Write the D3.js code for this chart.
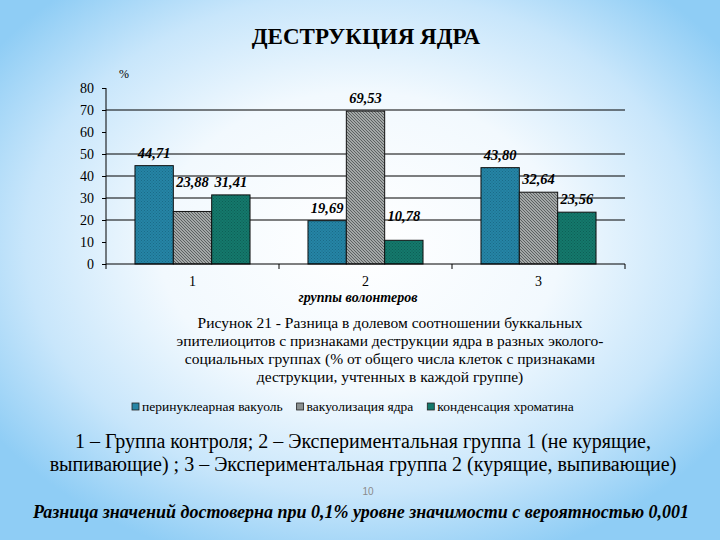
<!DOCTYPE html>
<html><head><meta charset="utf-8">
<script src="https://cdn.jsdelivr.net/npm/d3@7"></script>
</head>
<body style="margin:0">
<script>
const categories = ["1", "2", "3"];
const seriesNames = ["перинуклеарная вакуоль", "вакуолизация ядра", "конденсация хроматина"];
const perinuclear = [44.71, 19.69, 43.80];
const vacuolization = [23.88, 69.53, 32.64];
const condensation = [31.41, 10.78, 23.56];
const valueLabels = [["44,71", "23,88", "31,41"], ["19,69", "69,53", "10,78"], ["43,80", "32,64", "23,56"]];
const yTicks = [0, 10, 20, 30, 40, 50, 60, 70, 80];
const gridValues = [20, 30, 40, 50, 70];

const W = 720, H = 540;
const SERIF = '"Liberation Serif"';
const svg = d3.select("body").append("svg").attr("width", W).attr("height", H).style("display", "block");
const defs = svg.append("defs");

// background
const bg = defs.append("radialGradient").attr("id", "bg").attr("cx", "50%").attr("cy", "45%").attr("r", "62%");
bg.append("stop").attr("offset", "0%").attr("stop-color", "#ffffff");
bg.append("stop").attr("offset", "45%").attr("stop-color", "#f2f9fe");
bg.append("stop").attr("offset", "75%").attr("stop-color", "#c8e6fb");
bg.append("stop").attr("offset", "100%").attr("stop-color", "#8fcdf5");
svg.append("rect").attr("width", W).attr("height", H).attr("fill", "url(#bg)");

// patterns
function dotPattern(id, base, dot) {
  const p = defs.append("pattern").attr("id", id).attr("patternUnits", "userSpaceOnUse").attr("width", 3).attr("height", 3);
  p.append("rect").attr("width", 3).attr("height", 3).attr("fill", base);
  p.append("rect").attr("x", 0).attr("y", 0).attr("width", 1).attr("height", 1).attr("fill", dot);
  p.append("rect").attr("x", 1.5).attr("y", 1.5).attr("width", 1).attr("height", 1).attr("fill", dot);
}
dotPattern("pBlue", "#2585a6", "#1b6a87");
dotPattern("pTeal", "#14796c", "#0e5e55");
const ph = defs.append("pattern").attr("id", "pGray").attr("patternUnits", "userSpaceOnUse").attr("width", 3).attr("height", 3);
ph.append("rect").attr("width", 3).attr("height", 3).attr("fill", "#c4c8c8");
ph.append("path").attr("d", "M-1,-1 L4,4 M-1,2 L1,4 M2,-1 L4,1").attr("stroke", "#555a5a").attr("stroke-width", 1.1);
const fills = ["url(#pBlue)", "url(#pGray)", "url(#pTeal)"];
const legendFills = ["#2585a6", "#8a9090", "#14796c"];

function serifText(parent) { return parent.append("text").style("font-family", SERIF); }

// title
serifText(svg).attr("x", 366).attr("y", 44).attr("text-anchor", "middle")
  .style("font-weight", "bold").style("font-size", "23px")
  .text("ДЕСТРУКЦИЯ ЯДРА");

// scales
const x0 = d3.scaleBand().domain(categories).range([106, 625]).paddingInner(0.335).paddingOuter(0.1675);
const x1 = d3.scaleBand().domain([0, 1, 2]).range([0, x0.bandwidth()]);
const y = d3.scaleLinear().domain([0, 80]).range([264, 88]);

const g = svg.append("g");

// grid
g.selectAll("line.grid").data(gridValues).join("line").attr("class", "grid")
  .attr("x1", 106).attr("x2", 625).attr("y1", d => y(d)).attr("y2", d => y(d))
  .attr("stroke", "#000").attr("stroke-width", 1);

// y axis
const yAxis = g.append("g").attr("transform", "translate(106,0)")
  .call(d3.axisLeft(y).tickValues(yTicks).tickSize(4).tickPadding(8));
yAxis.attr("font-family", null).attr("font-size", null);
yAxis.select(".domain").attr("d", `M0,${y(80)}V${y(0)}`).attr("stroke", "#000");
yAxis.selectAll("text").style("font-family", SERIF).style("font-size", "14px").attr("fill", "#000");
serifText(g).attr("x", 119).attr("y", 78).style("font-size", "12px").text("%");

// bars
const data = categories.map((c, i) => ({ c, vals: [perinuclear[i], vacuolization[i], condensation[i]], labels: valueLabels[i] }));
const groups = g.selectAll("g.grp").data(data).join("g").attr("class", "grp")
  .attr("transform", d => `translate(${x0(d.c)},0)`);
groups.selectAll("rect").data(d => d.vals.map((v, k) => ({ v, k }))).join("rect")
  .attr("x", d => x1(d.k)).attr("width", x1.bandwidth())
  .attr("y", d => y(d.v)).attr("height", d => y(0) - y(d.v))
  .attr("fill", d => fills[d.k]).attr("stroke", "#111").attr("stroke-width", 1);

// value labels (some lifted to avoid overlap, as in the reference)
const lift = { "0-1": 24, "1-2": 19 };
groups.each(function (d, gi) {
  d3.select(this).selectAll("text.val").data(d.vals.map((v, k) => ({ v, k, t: d.labels[k] }))).join("text")
    .attr("class", "val")
    .attr("x", e => x1(e.k) + x1.bandwidth() / 2)
    .attr("y", e => y(e.v) - (lift[gi + "-" + e.k] || 8))
    .attr("text-anchor", "middle")
    .style("font-family", SERIF).style("font-weight", "bold").style("font-style", "italic").style("font-size", "14.5px")
    .text(e => e.t);
});

// x axis
const xa = g.append("g");
xa.append("line").attr("x1", 106).attr("x2", 625).attr("y1", y(0)).attr("y2", y(0)).attr("stroke", "#000");
const bounds = categories.map(c => x0(c) - x0.step() * x0.paddingInner() / 2).concat([625]);
xa.selectAll("line.tk").data(bounds).join("line").attr("class", "tk")
  .attr("x1", d => d).attr("x2", d => d).attr("y1", y(0)).attr("y2", y(0) + 5).attr("stroke", "#000");
xa.selectAll("text.cat").data(categories).join("text").attr("class", "cat")
  .attr("x", d => x0(d) + x0.bandwidth() / 2).attr("y", 286).attr("text-anchor", "middle")
  .style("font-family", SERIF).style("font-size", "14px").text(d => d);
serifText(svg).attr("x", 358).attr("y", 302).attr("text-anchor", "middle")
  .style("font-style", "italic").style("font-weight", "bold").style("font-size", "14px")
  .text("группы волонтеров");

// caption
const caption = ["Рисунок 21 - Разница в долевом соотношении буккальных",
  "эпителиоцитов с признаками деструкции ядра в разных эколого-",
  "социальных группах (% от общего числа клеток с признаками",
  "деструкции, учтенных в каждой группе)"];
svg.selectAll("text.cap").data(caption).join("text").attr("class", "cap")
  .attr("x", 390).attr("y", (d, i) => 328 + i * 18).attr("text-anchor", "middle")
  .style("font-family", SERIF).style("font-size", "15.5px").text(d => d);

// legend
const leg = svg.append("g");
let lx = 132;
seriesNames.forEach((s, k) => {
  leg.append("rect").attr("x", lx).attr("y", 403).attr("width", 7).attr("height", 7)
    .attr("fill", legendFills[k]).attr("stroke", "#222").attr("stroke-width", 0.8);
  const t = serifText(leg).attr("x", lx + 10).attr("y", 411).style("font-size", "13.5px").text(s);
  lx += 10 + t.node().getComputedTextLength() + 14;
});

// footnotes
const notes = ["1 – Группа контроля; 2 – Экспериментальная группа 1 (не курящие,",
  "выпивающие) ; 3 – Экспериментальная группа 2 (курящие, выпивающие)"];
svg.selectAll("text.note").data(notes).join("text").attr("class", "note")
  .attr("x", 363).attr("y", (d, i) => 448 + i * 23).attr("text-anchor", "middle")
  .style("font-family", SERIF).style("font-size", "20px").text(d => d);

svg.append("text").attr("x", 368).attr("y", 495).attr("text-anchor", "middle")
  .style("font-family", '"Liberation Sans"').style("font-size", "10px").attr("fill", "#8a8a8a").text("10");

serifText(svg).attr("x", 361).attr("y", 518).attr("text-anchor", "middle")
  .style("font-style", "italic").style("font-weight", "bold").style("font-size", "18px")
  .text("Разница значений достоверна при 0,1% уровне значимости с вероятностью 0,001");
</script>
</body></html>
